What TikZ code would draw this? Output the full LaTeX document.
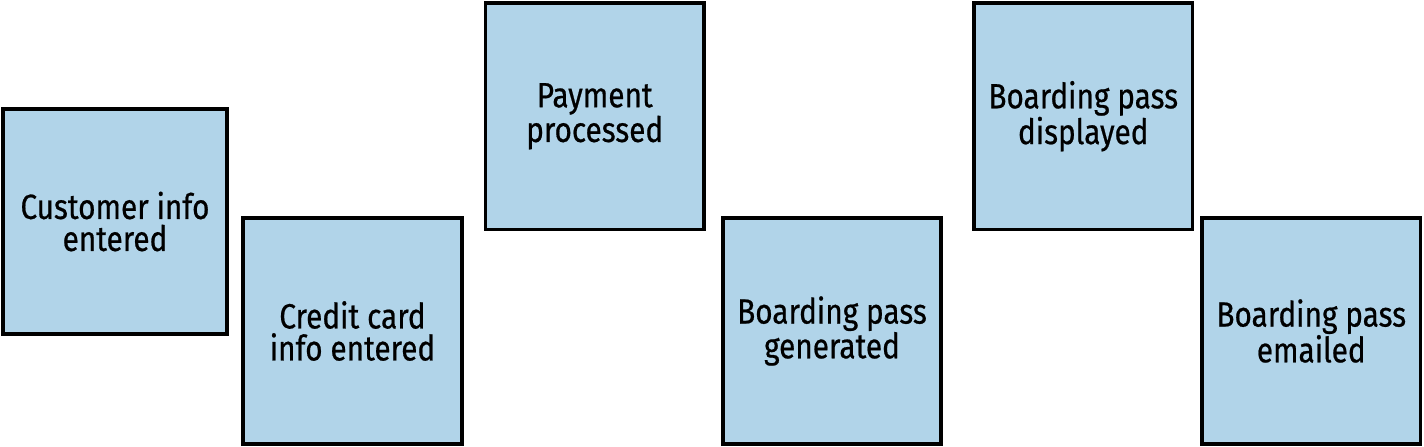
\documentclass[tikz,border=0pt]{standalone}
\usepackage{fontspec}
\setmainfont{Fira Sans}[FakeStretch=0.85,FakeBold=0.6]
\definecolor{boxfill}{RGB}{177,212,233}
\begin{document}
\begin{tikzpicture}[x=1pt,y=-1pt,
  card/.style={draw=black, fill=boxfill, line width=3.6pt, inner sep=0pt,
    align=center, font=\fontsize{35}{32}\selectfont, text=black}]
\useasboundingbox (0,0) rectangle (1424,447);
\node[card, minimum width=224pt, minimum height=225pt] (cust) at (115,221.5) {Customer info\\entered};
\node[card, minimum width=219pt, minimum height=226pt] (credit) at (352.5,331) {Credit card\\info entered};
\node[card, minimum width=218.5pt, minimum height=226.5pt] (pay) at (594.75,116.25) {Payment\\processed};
\node[card, minimum width=218pt, minimum height=226pt] (gen) at (832,331) {Boarding pass\\generated};
\node[card, minimum width=218.5pt, minimum height=226.5pt] (disp) at (1083.25,116.25) {Boarding pass\\displayed};
\node[card, minimum width=218.5pt, minimum height=226pt] (mail) at (1311.25,331) {Boarding pass\\emailed};
\end{tikzpicture}
\end{document}
